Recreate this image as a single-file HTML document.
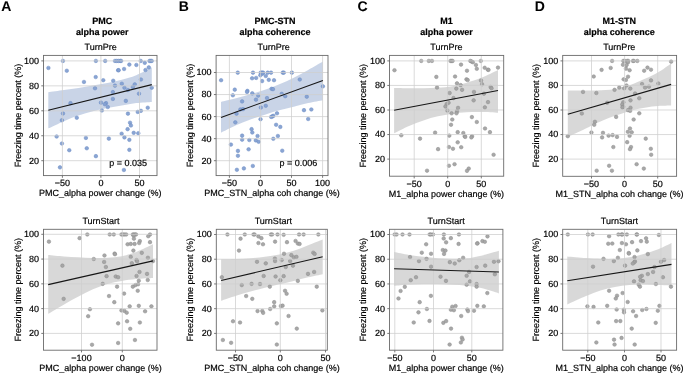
<!DOCTYPE html>
<html><head><meta charset="utf-8"><style>
html,body{margin:0;padding:0;background:#fff;}
svg{display:block;}
text{font-family:"Liberation Sans", sans-serif;fill:#000;text-rendering:geometricPrecision;stroke:#000;stroke-width:0.18px;}
.gr{stroke:#cecece;stroke-width:0.9;stroke-opacity:0.85;}
.tk{stroke:#6a6a6a;stroke-width:0.9;}
.tl{font-size:9px;}
.lb{font-size:9px;}
.tt{font-size:9px;font-weight:bold;}
.lt{font-size:14px;font-weight:bold;fill:#000;stroke-width:0.05px;}
</style></head><body>
<svg style="will-change:transform" width="685" height="374" viewBox="0 0 685 374">
<rect width="685" height="374" fill="#fff"/>
<text x="1.2" y="10.5" class="lt">A</text><text x="178.8" y="10.5" class="lt">B</text><text x="357.4" y="10.5" class="lt">C</text><text x="534.8" y="10.5" class="lt">D</text>
<path d="M48.3,92.27 C50.92,91.91 59.02,90.83 64.05,90.11 C69.08,89.39 73.67,88.71 78.48,87.95 C83.29,87.18 88.1,86.38 92.91,85.54 C97.72,84.7 102.53,83.86 107.33,82.9 C112.14,81.93 116.95,81.05 121.76,79.77 C126.57,78.49 131.19,77.24 136.19,75.2 C141.2,73.16 149.2,68.79 151.8,67.51 L151.8,101.89 C149.2,102.09 141.2,102.49 136.19,103.1 C131.19,103.7 126.57,104.7 121.76,105.5 C116.95,106.3 112.14,106.94 107.33,107.91 C102.53,108.87 97.72,109.99 92.91,111.27 C88.1,112.56 83.29,113.96 78.48,115.6 C73.67,117.24 69.08,119.01 64.05,121.13 C59.02,123.26 50.92,127.14 48.3,128.35 Z" fill="#4c72b0" fill-opacity="0.3"/>
<g fill="#84a0d1" stroke="#6d8dc4" stroke-width="0.5" fill-opacity="0.95"><circle cx="62.95" cy="60.93" r="1.8"/><circle cx="95.88" cy="60.93" r="1.8"/><circle cx="105.17" cy="60.93" r="1.8"/><circle cx="114.98" cy="60.93" r="1.8"/><circle cx="116.73" cy="60.93" r="1.8"/><circle cx="118.48" cy="60.93" r="1.8"/><circle cx="120.23" cy="60.93" r="1.8"/><circle cx="121.11" cy="60.93" r="1.8"/><circle cx="140.73" cy="60.93" r="1.8"/><circle cx="149.49" cy="60.93" r="1.8"/><circle cx="150.72" cy="60.93" r="1.8"/><circle cx="151.77" cy="60.93" r="1.8"/><circle cx="48.41" cy="67.94" r="1.8"/><circle cx="66.8" cy="70.74" r="1.8"/><circle cx="129.34" cy="64.61" r="1.8"/><circle cx="136.35" cy="64.96" r="1.8"/><circle cx="144.76" cy="62.86" r="1.8"/><circle cx="118.13" cy="70.22" r="1.8"/><circle cx="118.66" cy="70.22" r="1.8"/><circle cx="124.09" cy="68.99" r="1.8"/><circle cx="145.46" cy="70.04" r="1.8"/><circle cx="148.79" cy="67.42" r="1.8"/><circle cx="95.71" cy="77.05" r="1.8"/><circle cx="83.97" cy="81.96" r="1.8"/><circle cx="103.24" cy="80.2" r="1.8"/><circle cx="113.23" cy="80.73" r="1.8"/><circle cx="140.91" cy="79.5" r="1.8"/><circle cx="114.98" cy="85.64" r="1.8"/><circle cx="121.81" cy="83.71" r="1.8"/><circle cx="134.77" cy="84.41" r="1.8"/><circle cx="124.44" cy="87.74" r="1.8"/><circle cx="127.94" cy="90.01" r="1.8"/><circle cx="132.85" cy="87.04" r="1.8"/><circle cx="151.77" cy="87.74" r="1.8"/><circle cx="95.01" cy="88.26" r="1.8"/><circle cx="112.88" cy="92.12" r="1.8"/><circle cx="138.98" cy="93.69" r="1.8"/><circle cx="112.88" cy="98.95" r="1.8"/><circle cx="125.84" cy="100.88" r="1.8"/><circle cx="100.96" cy="102.63" r="1.8"/><circle cx="106.04" cy="103.15" r="1.8"/><circle cx="104.82" cy="104.2" r="1.8"/><circle cx="107.8" cy="107.01" r="1.8"/><circle cx="70.48" cy="103.15" r="1.8"/><circle cx="101.84" cy="110.51" r="1.8"/><circle cx="147.74" cy="107.71" r="1.8"/><circle cx="137.75" cy="111.91" r="1.8"/><circle cx="140.91" cy="110.86" r="1.8"/><circle cx="62.95" cy="113.49" r="1.8"/><circle cx="127.94" cy="113.66" r="1.8"/><circle cx="61.9" cy="120.23" r="1.8"/><circle cx="76.79" cy="117.78" r="1.8"/><circle cx="130.04" cy="122.69" r="1.8"/><circle cx="130.92" cy="125.49" r="1.8"/><circle cx="127.59" cy="129.17" r="1.8"/><circle cx="121.64" cy="133.72" r="1.8"/><circle cx="133.72" cy="132.85" r="1.8"/><circle cx="138.28" cy="133.2" r="1.8"/><circle cx="56.64" cy="136.53" r="1.8"/><circle cx="85.9" cy="137.93" r="1.8"/><circle cx="108.85" cy="138.63" r="1.8"/><circle cx="124.44" cy="137.4" r="1.8"/><circle cx="129.34" cy="139.85" r="1.8"/><circle cx="61.9" cy="143.53" r="1.8"/><circle cx="69.26" cy="150.19" r="1.8"/><circle cx="86.77" cy="148.26" r="1.8"/><circle cx="129.34" cy="149.84" r="1.8"/><circle cx="95.88" cy="156.15" r="1.8"/><circle cx="59.97" cy="167.36" r="1.8"/><circle cx="123.91" cy="169.99" r="1.8"/></g>
<line x1="43.5" y1="60.9" x2="157" y2="60.9" class="gr"/>
<line x1="43.5" y1="85.85" x2="157" y2="85.85" class="gr"/>
<line x1="43.5" y1="110.8" x2="157" y2="110.8" class="gr"/>
<line x1="43.5" y1="135.75" x2="157" y2="135.75" class="gr"/>
<line x1="43.5" y1="160.7" x2="157" y2="160.7" class="gr"/>
<line x1="62.4" y1="55.4" x2="62.4" y2="175.6" class="gr"/>
<line x1="100.9" y1="55.4" x2="100.9" y2="175.6" class="gr"/>
<line x1="139.5" y1="55.4" x2="139.5" y2="175.6" class="gr"/>
<line x1="48.3" y1="110.3" x2="151.8" y2="84.6" stroke="#161616" stroke-width="1.1"/>
<rect x="43.5" y="55.4" width="113.5" height="120.2" fill="none" stroke="#6a6a6a" stroke-width="0.9"/>
<line x1="41.3" y1="60.9" x2="43.5" y2="60.9" class="tk"/>
<text x="39" y="63.8" class="tl" text-anchor="end">100</text>
<line x1="41.3" y1="85.85" x2="43.5" y2="85.85" class="tk"/>
<text x="39" y="88.75" class="tl" text-anchor="end">80</text>
<line x1="41.3" y1="110.8" x2="43.5" y2="110.8" class="tk"/>
<text x="39" y="113.7" class="tl" text-anchor="end">60</text>
<line x1="41.3" y1="135.75" x2="43.5" y2="135.75" class="tk"/>
<text x="39" y="138.65" class="tl" text-anchor="end">40</text>
<line x1="41.3" y1="160.7" x2="43.5" y2="160.7" class="tk"/>
<text x="39" y="163.6" class="tl" text-anchor="end">20</text>
<line x1="62.4" y1="175.6" x2="62.4" y2="177.8" class="tk"/>
<text x="62.4" y="186" class="tl" text-anchor="middle">−50</text>
<line x1="100.9" y1="175.6" x2="100.9" y2="177.8" class="tk"/>
<text x="100.9" y="186" class="tl" text-anchor="middle">0</text>
<line x1="139.5" y1="175.6" x2="139.5" y2="177.8" class="tk"/>
<text x="139.5" y="186" class="tl" text-anchor="middle">50</text>
<text x="100.2" y="196.2" class="lb" text-anchor="middle">PMC_alpha power change (%)</text>
<text transform="translate(20.5,115.5) rotate(-90)" class="lb" text-anchor="middle">Freezing time percent (%)</text>
<text x="100.7" y="49.8" class="lb" text-anchor="middle">TurnPre</text>
<text x="102.3" y="24" class="tt" text-anchor="middle">PMC</text>
<text x="102.3" y="34.8" class="tt" text-anchor="middle">alpha power</text>
<text x="109.2" y="166.2" class="lb">p = 0.035</text>
<path d="M221,101.89 C223.51,101.29 231.14,99.57 236.05,98.29 C240.96,97 245.67,95.6 250.48,94.2 C255.29,92.8 260.1,91.51 264.91,89.87 C269.72,88.23 274.53,86.34 279.33,84.34 C284.14,82.33 288.95,80.25 293.76,77.85 C298.57,75.44 303.34,72.64 308.19,69.91 C313.05,67.18 320.45,62.9 322.9,61.49 L322.9,100.21 C320.45,100.69 313.05,102.01 308.19,103.1 C303.34,104.18 298.57,105.5 293.76,106.7 C288.95,107.91 284.14,108.99 279.33,110.31 C274.53,111.63 269.72,113.12 264.91,114.64 C260.1,116.16 255.29,117.69 250.48,119.45 C245.67,121.21 240.96,123.02 236.05,125.22 C231.14,127.42 223.51,131.43 221,132.68 Z" fill="#4c72b0" fill-opacity="0.3"/>
<g fill="#84a0d1" stroke="#6d8dc4" stroke-width="0.5" fill-opacity="0.95"><circle cx="221.11" cy="80.2" r="1.8"/><circle cx="237.75" cy="72.67" r="1.8"/><circle cx="252.99" cy="72.67" r="1.8"/><circle cx="260.7" cy="72.67" r="1.8"/><circle cx="261.93" cy="72.67" r="1.8"/><circle cx="263.15" cy="72.67" r="1.8"/><circle cx="262.45" cy="73.72" r="1.8"/><circle cx="267.71" cy="72.67" r="1.8"/><circle cx="271.04" cy="72.67" r="1.8"/><circle cx="282.77" cy="72.67" r="1.8"/><circle cx="283.82" cy="72.67" r="1.8"/><circle cx="291.88" cy="72.67" r="1.8"/><circle cx="260.35" cy="75.3" r="1.8"/><circle cx="265.78" cy="76" r="1.8"/><circle cx="252.12" cy="78.28" r="1.8"/><circle cx="256.15" cy="77.93" r="1.8"/><circle cx="262.1" cy="81.08" r="1.8"/><circle cx="268.76" cy="79.85" r="1.8"/><circle cx="274.01" cy="80.2" r="1.8"/><circle cx="299.77" cy="79.5" r="1.8"/><circle cx="322.89" cy="86.34" r="1.8"/><circle cx="234.77" cy="89.66" r="1.8"/><circle cx="247.39" cy="90.89" r="1.8"/><circle cx="247.04" cy="91.94" r="1.8"/><circle cx="252.29" cy="93.34" r="1.8"/><circle cx="271.56" cy="88.79" r="1.8"/><circle cx="272.96" cy="89.14" r="1.8"/><circle cx="232.85" cy="95.27" r="1.8"/><circle cx="258.25" cy="95.62" r="1.8"/><circle cx="281.72" cy="93.87" r="1.8"/><circle cx="285.23" cy="96.15" r="1.8"/><circle cx="306.77" cy="96.67" r="1.8"/><circle cx="267.01" cy="98.07" r="1.8"/><circle cx="255.97" cy="99.65" r="1.8"/><circle cx="242.13" cy="101.4" r="1.8"/><circle cx="265.78" cy="105.78" r="1.8"/><circle cx="260.88" cy="107.53" r="1.8"/><circle cx="240.38" cy="109.46" r="1.8"/><circle cx="243.01" cy="109.11" r="1.8"/><circle cx="303.97" cy="110.16" r="1.8"/><circle cx="311.33" cy="109.46" r="1.8"/><circle cx="236.53" cy="113.66" r="1.8"/><circle cx="276.99" cy="113.31" r="1.8"/><circle cx="272.44" cy="116.38" r="1.8"/><circle cx="271.21" cy="116.91" r="1.8"/><circle cx="273.31" cy="115.85" r="1.8"/><circle cx="260.53" cy="119.18" r="1.8"/><circle cx="308.18" cy="119.01" r="1.8"/><circle cx="235.3" cy="122.34" r="1.8"/><circle cx="276.12" cy="124.79" r="1.8"/><circle cx="280.32" cy="126.89" r="1.8"/><circle cx="251.59" cy="129.17" r="1.8"/><circle cx="252.29" cy="132.5" r="1.8"/><circle cx="242.13" cy="135.65" r="1.8"/><circle cx="257.55" cy="136" r="1.8"/><circle cx="277.87" cy="136" r="1.8"/><circle cx="242.13" cy="139.68" r="1.8"/><circle cx="249.31" cy="140.03" r="1.8"/><circle cx="255.8" cy="140.38" r="1.8"/><circle cx="258.6" cy="141.78" r="1.8"/><circle cx="273.31" cy="138.8" r="1.8"/><circle cx="230.92" cy="144.58" r="1.8"/><circle cx="237.93" cy="150.89" r="1.8"/><circle cx="248.61" cy="149.31" r="1.8"/><circle cx="282.25" cy="150.72" r="1.8"/><circle cx="237.93" cy="155.8" r="1.8"/><circle cx="252.82" cy="165.96" r="1.8"/><circle cx="243.88" cy="168.41" r="1.8"/><circle cx="236.88" cy="169.81" r="1.8"/></g>
<line x1="216.1" y1="72.5" x2="328" y2="72.5" class="gr"/>
<line x1="216.1" y1="94.55" x2="328" y2="94.55" class="gr"/>
<line x1="216.1" y1="116.6" x2="328" y2="116.6" class="gr"/>
<line x1="216.1" y1="138.65" x2="328" y2="138.65" class="gr"/>
<line x1="216.1" y1="160.7" x2="328" y2="160.7" class="gr"/>
<line x1="229.4" y1="55.4" x2="229.4" y2="175.6" class="gr"/>
<line x1="260.6" y1="55.4" x2="260.6" y2="175.6" class="gr"/>
<line x1="291.5" y1="55.4" x2="291.5" y2="175.6" class="gr"/>
<line x1="322.6" y1="55.4" x2="322.6" y2="175.6" class="gr"/>
<line x1="221" y1="117.4" x2="322.9" y2="80.6" stroke="#161616" stroke-width="1.1"/>
<rect x="216.1" y="55.4" width="111.9" height="120.2" fill="none" stroke="#6a6a6a" stroke-width="0.9"/>
<line x1="213.9" y1="72.5" x2="216.1" y2="72.5" class="tk"/>
<text x="211.6" y="75.4" class="tl" text-anchor="end">100</text>
<line x1="213.9" y1="94.55" x2="216.1" y2="94.55" class="tk"/>
<text x="211.6" y="97.45" class="tl" text-anchor="end">80</text>
<line x1="213.9" y1="116.6" x2="216.1" y2="116.6" class="tk"/>
<text x="211.6" y="119.5" class="tl" text-anchor="end">60</text>
<line x1="213.9" y1="138.65" x2="216.1" y2="138.65" class="tk"/>
<text x="211.6" y="141.55" class="tl" text-anchor="end">40</text>
<line x1="213.9" y1="160.7" x2="216.1" y2="160.7" class="tk"/>
<text x="211.6" y="163.6" class="tl" text-anchor="end">20</text>
<line x1="229.4" y1="175.6" x2="229.4" y2="177.8" class="tk"/>
<text x="229.4" y="186" class="tl" text-anchor="middle">−50</text>
<line x1="260.6" y1="175.6" x2="260.6" y2="177.8" class="tk"/>
<text x="260.6" y="186" class="tl" text-anchor="middle">0</text>
<line x1="291.5" y1="175.6" x2="291.5" y2="177.8" class="tk"/>
<text x="291.5" y="186" class="tl" text-anchor="middle">50</text>
<line x1="322.6" y1="175.6" x2="322.6" y2="177.8" class="tk"/>
<text x="322.6" y="186" class="tl" text-anchor="middle">100</text>
<text x="272" y="196.2" class="lb" text-anchor="middle">PMC_STN_alpha coh change (%)</text>
<text transform="translate(193.1,115.5) rotate(-90)" class="lb" text-anchor="middle">Freezing time percent (%)</text>
<text x="273.6" y="49.8" class="lb" text-anchor="middle">TurnPre</text>
<text x="275.1" y="24" class="tt" text-anchor="middle">PMC-STN</text>
<text x="275.1" y="34.8" class="tt" text-anchor="middle">alpha coherence</text>
<text x="279.5" y="166.2" class="lb">p = 0.006</text>
<path d="M394.1,87.95 C396.59,87.99 404.15,88.15 409.05,88.19 C413.94,88.23 418.67,88.27 423.48,88.19 C428.29,88.11 433.1,88.03 437.91,87.71 C442.72,87.38 447.53,87.1 452.33,86.26 C457.14,85.42 461.95,84.06 466.76,82.66 C471.57,81.25 475.99,79.97 481.19,77.85 C486.4,75.72 495.2,71.23 498,69.91 L498,112.72 C495.2,112.6 486.4,112.07 481.19,111.99 C475.99,111.91 471.57,111.95 466.76,112.23 C461.95,112.52 457.14,113 452.33,113.68 C447.53,114.36 442.72,115.2 437.91,116.32 C433.1,117.44 428.29,118.81 423.48,120.41 C418.67,122.01 413.94,123.82 409.05,125.94 C404.15,128.07 396.59,131.95 394.1,133.16 Z" fill="#7f7f7f" fill-opacity="0.3"/>
<g fill="#a3a3a3" stroke="#8c8c8c" stroke-width="0.5" fill-opacity="0.95"><circle cx="394.46" cy="70.22" r="1.8"/><circle cx="421.26" cy="60.93" r="1.8"/><circle cx="428.8" cy="60.93" r="1.8"/><circle cx="431.95" cy="60.93" r="1.8"/><circle cx="450.52" cy="60.93" r="1.8"/><circle cx="451.57" cy="60.93" r="1.8"/><circle cx="452.62" cy="60.93" r="1.8"/><circle cx="470.31" cy="60.93" r="1.8"/><circle cx="471.54" cy="61.46" r="1.8"/><circle cx="472.77" cy="62.16" r="1.8"/><circle cx="480.82" cy="60.93" r="1.8"/><circle cx="461.03" cy="64.61" r="1.8"/><circle cx="475.92" cy="64.96" r="1.8"/><circle cx="476.8" cy="68.82" r="1.8"/><circle cx="466.99" cy="70.74" r="1.8"/><circle cx="484.68" cy="67.77" r="1.8"/><circle cx="487.83" cy="69.69" r="1.8"/><circle cx="488.53" cy="69.87" r="1.8"/><circle cx="497.99" cy="67.59" r="1.8"/><circle cx="436.33" cy="76.88" r="1.8"/><circle cx="455.07" cy="76.53" r="1.8"/><circle cx="466.46" cy="79.33" r="1.8"/><circle cx="467.69" cy="80.03" r="1.8"/><circle cx="481" cy="80.55" r="1.8"/><circle cx="482.05" cy="84.23" r="1.8"/><circle cx="457" cy="83.36" r="1.8"/><circle cx="460.68" cy="85.11" r="1.8"/><circle cx="437.03" cy="87.56" r="1.8"/><circle cx="456.3" cy="88.61" r="1.8"/><circle cx="462.08" cy="89.84" r="1.8"/><circle cx="490.64" cy="87.04" r="1.8"/><circle cx="491.51" cy="88.26" r="1.8"/><circle cx="449.64" cy="92.99" r="1.8"/><circle cx="473.99" cy="91.94" r="1.8"/><circle cx="483.98" cy="93.69" r="1.8"/><circle cx="453.5" cy="98.07" r="1.8"/><circle cx="473.64" cy="100.35" r="1.8"/><circle cx="488.01" cy="102.1" r="1.8"/><circle cx="448.59" cy="102.8" r="1.8"/><circle cx="446.66" cy="104.03" r="1.8"/><circle cx="445.44" cy="106.48" r="1.8"/><circle cx="458.05" cy="107.88" r="1.8"/><circle cx="484.85" cy="107.36" r="1.8"/><circle cx="447.36" cy="110.51" r="1.8"/><circle cx="457" cy="111.21" r="1.8"/><circle cx="451.57" cy="113.31" r="1.8"/><circle cx="456.47" cy="113.31" r="1.8"/><circle cx="452.27" cy="119.53" r="1.8"/><circle cx="451.04" cy="124.79" r="1.8"/><circle cx="471.89" cy="117.08" r="1.8"/><circle cx="476.8" cy="121.99" r="1.8"/><circle cx="485.03" cy="128.47" r="1.8"/><circle cx="489.93" cy="132.15" r="1.8"/><circle cx="435.1" cy="132.67" r="1.8"/><circle cx="457.7" cy="132.15" r="1.8"/><circle cx="463.31" cy="133.02" r="1.8"/><circle cx="464.71" cy="136.18" r="1.8"/><circle cx="465.23" cy="136.88" r="1.8"/><circle cx="472.07" cy="136.18" r="1.8"/><circle cx="471.36" cy="137.4" r="1.8"/><circle cx="449.29" cy="135.65" r="1.8"/><circle cx="401.29" cy="135.3" r="1.8"/><circle cx="420.04" cy="138.63" r="1.8"/><circle cx="457.7" cy="142.31" r="1.8"/><circle cx="448.94" cy="147.04" r="1.8"/><circle cx="452.97" cy="148.79" r="1.8"/><circle cx="461.2" cy="147.21" r="1.8"/><circle cx="438.08" cy="149.14" r="1.8"/><circle cx="493.61" cy="154.74" r="1.8"/><circle cx="448.94" cy="165.78" r="1.8"/><circle cx="454.55" cy="164.2" r="1.8"/><circle cx="468.74" cy="168.58" r="1.8"/><circle cx="466.99" cy="170.86" r="1.8"/><circle cx="427.04" cy="170.69" r="1.8"/></g>
<line x1="389.5" y1="60.9" x2="503.7" y2="60.9" class="gr"/>
<line x1="389.5" y1="85.45" x2="503.7" y2="85.45" class="gr"/>
<line x1="389.5" y1="110" x2="503.7" y2="110" class="gr"/>
<line x1="389.5" y1="134.55" x2="503.7" y2="134.55" class="gr"/>
<line x1="389.5" y1="159.1" x2="503.7" y2="159.1" class="gr"/>
<line x1="414.2" y1="55.4" x2="414.2" y2="176.2" class="gr"/>
<line x1="447.7" y1="55.4" x2="447.7" y2="176.2" class="gr"/>
<line x1="481.3" y1="55.4" x2="481.3" y2="176.2" class="gr"/>
<line x1="394.1" y1="110.3" x2="498" y2="90.5" stroke="#161616" stroke-width="1.1"/>
<rect x="389.5" y="55.4" width="114.2" height="120.8" fill="none" stroke="#6a6a6a" stroke-width="0.9"/>
<line x1="387.3" y1="60.9" x2="389.5" y2="60.9" class="tk"/>
<text x="385" y="63.8" class="tl" text-anchor="end">100</text>
<line x1="387.3" y1="85.45" x2="389.5" y2="85.45" class="tk"/>
<text x="385" y="88.35" class="tl" text-anchor="end">80</text>
<line x1="387.3" y1="110" x2="389.5" y2="110" class="tk"/>
<text x="385" y="112.9" class="tl" text-anchor="end">60</text>
<line x1="387.3" y1="134.55" x2="389.5" y2="134.55" class="tk"/>
<text x="385" y="137.45" class="tl" text-anchor="end">40</text>
<line x1="387.3" y1="159.1" x2="389.5" y2="159.1" class="tk"/>
<text x="385" y="162" class="tl" text-anchor="end">20</text>
<line x1="414.2" y1="176.2" x2="414.2" y2="178.4" class="tk"/>
<text x="414.2" y="186.6" class="tl" text-anchor="middle">−50</text>
<line x1="447.7" y1="176.2" x2="447.7" y2="178.4" class="tk"/>
<text x="447.7" y="186.6" class="tl" text-anchor="middle">0</text>
<line x1="481.3" y1="176.2" x2="481.3" y2="178.4" class="tk"/>
<text x="481.3" y="186.6" class="tl" text-anchor="middle">50</text>
<text x="446.4" y="196.8" class="lb" text-anchor="middle">M1_alpha power change (%)</text>
<text transform="translate(365.5,115.8) rotate(-90)" class="lb" text-anchor="middle">Freezing time percent (%)</text>
<text x="446.4" y="49.8" class="lb" text-anchor="middle">TurnPre</text>
<text x="446.4" y="24" class="tt" text-anchor="middle">M1</text>
<text x="446.4" y="34.8" class="tt" text-anchor="middle">alpha power</text>
<path d="M567.8,90.59 C571.64,90.59 583.81,90.71 590.86,90.59 C597.91,90.47 604.48,90.51 610.1,89.87 C615.71,89.23 620.52,87.83 624.53,86.74 C628.53,85.66 630.54,84.78 634.14,83.38 C637.75,81.97 642.16,80.17 646.17,78.33 C650.18,76.48 654.04,74.8 658.19,72.31 C662.35,69.83 668.95,64.9 671.1,63.42 L671.1,105.5 C668.95,105.58 662.35,105.66 658.19,105.98 C654.04,106.3 650.18,106.78 646.17,107.42 C642.16,108.07 638.15,108.83 634.14,109.83 C630.14,110.83 626.13,112.15 622.12,113.44 C618.11,114.72 613.7,116.16 610.1,117.53 C606.49,118.89 603.68,120.21 600.48,121.61 C597.27,123.02 594.06,124.42 590.86,125.94 C587.65,127.46 585.08,128.95 581.24,130.75 C577.4,132.56 570.04,135.76 567.8,136.76 Z" fill="#7f7f7f" fill-opacity="0.3"/>
<g fill="#a3a3a3" stroke="#8c8c8c" stroke-width="0.5" fill-opacity="0.95"><circle cx="612.1" cy="60.93" r="1.8"/><circle cx="623.31" cy="60.93" r="1.8"/><circle cx="624.72" cy="60.93" r="1.8"/><circle cx="627.17" cy="60.93" r="1.8"/><circle cx="628.22" cy="60.93" r="1.8"/><circle cx="627.87" cy="62.51" r="1.8"/><circle cx="632.95" cy="60.93" r="1.8"/><circle cx="633.82" cy="60.93" r="1.8"/><circle cx="637.33" cy="60.93" r="1.8"/><circle cx="671.14" cy="61.64" r="1.8"/><circle cx="622.96" cy="64.79" r="1.8"/><circle cx="626.47" cy="65.14" r="1.8"/><circle cx="601.59" cy="69.87" r="1.8"/><circle cx="610.7" cy="67.94" r="1.8"/><circle cx="625.94" cy="68.64" r="1.8"/><circle cx="629.62" cy="70.22" r="1.8"/><circle cx="644.16" cy="70.74" r="1.8"/><circle cx="647.49" cy="67.59" r="1.8"/><circle cx="650.99" cy="69.69" r="1.8"/><circle cx="593.71" cy="76.53" r="1.8"/><circle cx="628.04" cy="76.7" r="1.8"/><circle cx="623.66" cy="79.33" r="1.8"/><circle cx="625.94" cy="80.03" r="1.8"/><circle cx="650.99" cy="80.38" r="1.8"/><circle cx="642.06" cy="84.06" r="1.8"/><circle cx="658.35" cy="83.53" r="1.8"/><circle cx="626.47" cy="85.46" r="1.8"/><circle cx="624.19" cy="88.26" r="1.8"/><circle cx="630.32" cy="88.61" r="1.8"/><circle cx="619.28" cy="87.56" r="1.8"/><circle cx="614.55" cy="89.84" r="1.8"/><circle cx="645.04" cy="87.56" r="1.8"/><circle cx="648.89" cy="86.69" r="1.8"/><circle cx="583.02" cy="91.94" r="1.8"/><circle cx="596.34" cy="92.99" r="1.8"/><circle cx="635.05" cy="93.52" r="1.8"/><circle cx="639.26" cy="98.25" r="1.8"/><circle cx="630.5" cy="100.35" r="1.8"/><circle cx="607.2" cy="102.8" r="1.8"/><circle cx="623.31" cy="102.28" r="1.8"/><circle cx="622.26" cy="104.55" r="1.8"/><circle cx="623.14" cy="106.83" r="1.8"/><circle cx="622.44" cy="107.36" r="1.8"/><circle cx="630.5" cy="107.71" r="1.8"/><circle cx="628.04" cy="110.16" r="1.8"/><circle cx="630.15" cy="110.86" r="1.8"/><circle cx="581.8" cy="113.49" r="1.8"/><circle cx="639.26" cy="113.31" r="1.8"/><circle cx="616.13" cy="116.91" r="1.8"/><circle cx="633.65" cy="119.53" r="1.8"/><circle cx="594.93" cy="121.81" r="1.8"/><circle cx="594.23" cy="124.79" r="1.8"/><circle cx="629.97" cy="128.47" r="1.8"/><circle cx="627.87" cy="131.8" r="1.8"/><circle cx="631.72" cy="132.32" r="1.8"/><circle cx="629.62" cy="135.82" r="1.8"/><circle cx="591.43" cy="132.5" r="1.8"/><circle cx="602.99" cy="132.85" r="1.8"/><circle cx="602.12" cy="137.4" r="1.8"/><circle cx="608.6" cy="135.65" r="1.8"/><circle cx="612.63" cy="135.12" r="1.8"/><circle cx="617.01" cy="136.88" r="1.8"/><circle cx="567.78" cy="136.18" r="1.8"/><circle cx="645.74" cy="138.63" r="1.8"/><circle cx="627.17" cy="142.13" r="1.8"/><circle cx="613.33" cy="147.04" r="1.8"/><circle cx="631.02" cy="147.04" r="1.8"/><circle cx="629.97" cy="149.14" r="1.8"/><circle cx="650.82" cy="148.79" r="1.8"/><circle cx="651.17" cy="154.74" r="1.8"/><circle cx="636.63" cy="164.2" r="1.8"/><circle cx="609.12" cy="165.78" r="1.8"/><circle cx="611.93" cy="170.69" r="1.8"/><circle cx="596.69" cy="170.69" r="1.8"/><circle cx="643.81" cy="168.58" r="1.8"/></g>
<line x1="562.7" y1="60.9" x2="676.6" y2="60.9" class="gr"/>
<line x1="562.7" y1="85.45" x2="676.6" y2="85.45" class="gr"/>
<line x1="562.7" y1="110" x2="676.6" y2="110" class="gr"/>
<line x1="562.7" y1="134.55" x2="676.6" y2="134.55" class="gr"/>
<line x1="562.7" y1="159.1" x2="676.6" y2="159.1" class="gr"/>
<line x1="591.5" y1="55.4" x2="591.5" y2="176.3" class="gr"/>
<line x1="624.6" y1="55.4" x2="624.6" y2="176.3" class="gr"/>
<line x1="657.7" y1="55.4" x2="657.7" y2="176.3" class="gr"/>
<line x1="567.8" y1="114.2" x2="671.1" y2="84.4" stroke="#161616" stroke-width="1.1"/>
<rect x="562.7" y="55.4" width="113.9" height="120.9" fill="none" stroke="#6a6a6a" stroke-width="0.9"/>
<line x1="560.5" y1="60.9" x2="562.7" y2="60.9" class="tk"/>
<text x="558.2" y="63.8" class="tl" text-anchor="end">100</text>
<line x1="560.5" y1="85.45" x2="562.7" y2="85.45" class="tk"/>
<text x="558.2" y="88.35" class="tl" text-anchor="end">80</text>
<line x1="560.5" y1="110" x2="562.7" y2="110" class="tk"/>
<text x="558.2" y="112.9" class="tl" text-anchor="end">60</text>
<line x1="560.5" y1="134.55" x2="562.7" y2="134.55" class="tk"/>
<text x="558.2" y="137.45" class="tl" text-anchor="end">40</text>
<line x1="560.5" y1="159.1" x2="562.7" y2="159.1" class="tk"/>
<text x="558.2" y="162" class="tl" text-anchor="end">20</text>
<line x1="591.5" y1="176.3" x2="591.5" y2="178.5" class="tk"/>
<text x="591.5" y="186.7" class="tl" text-anchor="middle">−50</text>
<line x1="624.6" y1="176.3" x2="624.6" y2="178.5" class="tk"/>
<text x="624.6" y="186.7" class="tl" text-anchor="middle">0</text>
<line x1="657.7" y1="176.3" x2="657.7" y2="178.5" class="tk"/>
<text x="657.7" y="186.7" class="tl" text-anchor="middle">50</text>
<text x="619.5" y="196.9" class="lb" text-anchor="middle">M1_STN_alpha coh change (%)</text>
<text transform="translate(538.7,115.85) rotate(-90)" class="lb" text-anchor="middle">Freezing time percent (%)</text>
<text x="619.3" y="49.8" class="lb" text-anchor="middle">TurnPre</text>
<text x="619.2" y="24" class="tt" text-anchor="middle">M1-STN</text>
<text x="619.2" y="34.8" class="tt" text-anchor="middle">alpha coherence</text>
<path d="M48.2,254.93 C50.84,255.17 59,255.98 64.05,256.38 C69.09,256.78 73.67,257.06 78.48,257.34 C83.29,257.62 88.1,257.98 92.91,258.06 C97.72,258.14 102.53,258.14 107.33,257.82 C112.14,257.5 116.95,257.1 121.76,256.14 C126.57,255.17 130.99,254.01 136.19,252.05 C141.4,250.08 150.2,245.64 153,244.35 L153,278.02 C150.2,278.18 141.4,278.5 136.19,278.98 C130.99,279.46 126.57,280.06 121.76,280.91 C116.95,281.75 112.14,282.63 107.33,284.03 C102.53,285.43 97.72,287.24 92.91,289.32 C88.1,291.41 83.29,294.01 78.48,296.54 C73.67,299.06 69.09,301.59 64.05,304.47 C59,307.36 50.84,312.29 48.2,313.85 Z" fill="#7f7f7f" fill-opacity="0.3"/>
<g fill="#a3a3a3" stroke="#8c8c8c" stroke-width="0.5" fill-opacity="0.95"><circle cx="48.93" cy="241.64" r="1.8"/><circle cx="79.59" cy="238.14" r="1.8"/><circle cx="87.3" cy="234.46" r="1.8"/><circle cx="109.72" cy="234.46" r="1.8"/><circle cx="113.75" cy="234.46" r="1.8"/><circle cx="121.46" cy="234.46" r="1.8"/><circle cx="122.86" cy="234.46" r="1.8"/><circle cx="124.44" cy="234.46" r="1.8"/><circle cx="126.19" cy="234.46" r="1.8"/><circle cx="132.85" cy="234.46" r="1.8"/><circle cx="133.9" cy="234.46" r="1.8"/><circle cx="135.12" cy="234.46" r="1.8"/><circle cx="136" cy="234.46" r="1.8"/><circle cx="133.55" cy="235.51" r="1.8"/><circle cx="150.01" cy="234.46" r="1.8"/><circle cx="148.26" cy="236.21" r="1.8"/><circle cx="133.9" cy="238.66" r="1.8"/><circle cx="139.85" cy="241.12" r="1.8"/><circle cx="139.15" cy="243.04" r="1.8"/><circle cx="127.59" cy="244.27" r="1.8"/><circle cx="130.74" cy="243.92" r="1.8"/><circle cx="134.6" cy="243.92" r="1.8"/><circle cx="150.01" cy="242.17" r="1.8"/><circle cx="62.42" cy="265.64" r="1.8"/><circle cx="93.78" cy="258.99" r="1.8"/><circle cx="104.47" cy="255.48" r="1.8"/><circle cx="114.63" cy="253.55" r="1.8"/><circle cx="114.98" cy="254.26" r="1.8"/><circle cx="133.37" cy="250.58" r="1.8"/><circle cx="141.78" cy="252.85" r="1.8"/><circle cx="130.74" cy="256.88" r="1.8"/><circle cx="147.91" cy="257.76" r="1.8"/><circle cx="136.53" cy="260.04" r="1.8"/><circle cx="137.05" cy="261.26" r="1.8"/><circle cx="152.99" cy="261.09" r="1.8"/><circle cx="104.12" cy="261.96" r="1.8"/><circle cx="131.8" cy="263.19" r="1.8"/><circle cx="105.87" cy="267.04" r="1.8"/><circle cx="139.5" cy="271.95" r="1.8"/><circle cx="147.04" cy="273.88" r="1.8"/><circle cx="106.57" cy="276.15" r="1.8"/><circle cx="115.68" cy="276.5" r="1.8"/><circle cx="118.13" cy="277.2" r="1.8"/><circle cx="136.53" cy="275.98" r="1.8"/><circle cx="138.8" cy="280.71" r="1.8"/><circle cx="147.74" cy="280.01" r="1.8"/><circle cx="102.72" cy="283.86" r="1.8"/><circle cx="117.08" cy="286.66" r="1.8"/><circle cx="132.85" cy="286.66" r="1.8"/><circle cx="135.47" cy="285.09" r="1.8"/><circle cx="138.1" cy="284.21" r="1.8"/><circle cx="137.75" cy="290.78" r="1.8"/><circle cx="124.09" cy="293.58" r="1.8"/><circle cx="109.02" cy="296.04" r="1.8"/><circle cx="114.28" cy="302.17" r="1.8"/><circle cx="63.65" cy="298.84" r="1.8"/><circle cx="129.69" cy="306.37" r="1.8"/><circle cx="138.8" cy="305.85" r="1.8"/><circle cx="151.42" cy="306.37" r="1.8"/><circle cx="145.11" cy="311.28" r="1.8"/><circle cx="89.93" cy="309.18" r="1.8"/><circle cx="121.46" cy="310.4" r="1.8"/><circle cx="124.44" cy="310.93" r="1.8"/><circle cx="126.72" cy="312.68" r="1.8"/><circle cx="88.18" cy="316.18" r="1.8"/><circle cx="118.13" cy="323.36" r="1.8"/><circle cx="127.07" cy="321.26" r="1.8"/><circle cx="139.85" cy="322.49" r="1.8"/><circle cx="130.22" cy="328.8" r="1.8"/><circle cx="92.03" cy="344.74" r="1.8"/><circle cx="118.13" cy="342.99" r="1.8"/><circle cx="134.95" cy="340.01" r="1.8"/></g>
<line x1="43.5" y1="234.3" x2="157" y2="234.3" class="gr"/>
<line x1="43.5" y1="259.07" x2="157" y2="259.07" class="gr"/>
<line x1="43.5" y1="283.85" x2="157" y2="283.85" class="gr"/>
<line x1="43.5" y1="308.62" x2="157" y2="308.62" class="gr"/>
<line x1="43.5" y1="333.4" x2="157" y2="333.4" class="gr"/>
<line x1="81.5" y1="229.3" x2="81.5" y2="350.2" class="gr"/>
<line x1="122.3" y1="229.3" x2="122.3" y2="350.2" class="gr"/>
<line x1="48.2" y1="284.6" x2="153" y2="260.9" stroke="#161616" stroke-width="1.1"/>
<rect x="43.5" y="229.3" width="113.5" height="120.9" fill="none" stroke="#6a6a6a" stroke-width="0.9"/>
<line x1="41.3" y1="234.3" x2="43.5" y2="234.3" class="tk"/>
<text x="39" y="237.2" class="tl" text-anchor="end">100</text>
<line x1="41.3" y1="259.07" x2="43.5" y2="259.07" class="tk"/>
<text x="39" y="261.97" class="tl" text-anchor="end">80</text>
<line x1="41.3" y1="283.85" x2="43.5" y2="283.85" class="tk"/>
<text x="39" y="286.75" class="tl" text-anchor="end">60</text>
<line x1="41.3" y1="308.62" x2="43.5" y2="308.62" class="tk"/>
<text x="39" y="311.52" class="tl" text-anchor="end">40</text>
<line x1="41.3" y1="333.4" x2="43.5" y2="333.4" class="tk"/>
<text x="39" y="336.3" class="tl" text-anchor="end">20</text>
<line x1="81.5" y1="350.2" x2="81.5" y2="352.4" class="tk"/>
<text x="81.5" y="360.6" class="tl" text-anchor="middle">−100</text>
<line x1="122.3" y1="350.2" x2="122.3" y2="352.4" class="tk"/>
<text x="122.3" y="360.6" class="tl" text-anchor="middle">0</text>
<text x="100.6" y="370.8" class="lb" text-anchor="middle">PMC_alpha power change (%)</text>
<text transform="translate(20.5,289.75) rotate(-90)" class="lb" text-anchor="middle">Freezing time percent (%)</text>
<text x="101" y="223.7" class="lb" text-anchor="middle">TurnStart</text>
<path d="M221.1,259.26 C223.59,259.22 231.15,259.18 236.05,259.02 C240.94,258.86 245.67,258.66 250.48,258.3 C255.29,257.94 260.1,257.5 264.91,256.86 C269.72,256.22 274.53,255.45 279.33,254.45 C284.14,253.45 288.95,252.37 293.76,250.85 C298.57,249.32 303.37,247.2 308.19,245.31 C313.02,243.43 320.28,240.51 322.7,239.54 L322.7,274.17 C320.28,274.69 313.02,276.18 308.19,277.3 C303.37,278.42 298.57,279.74 293.76,280.91 C288.95,282.07 284.14,283.15 279.33,284.27 C274.53,285.39 269.72,286.44 264.91,287.64 C260.1,288.84 255.29,290.12 250.48,291.49 C245.67,292.85 240.94,294.25 236.05,295.82 C231.15,297.38 223.59,300.02 221.1,300.87 Z" fill="#7f7f7f" fill-opacity="0.3"/>
<g fill="#a3a3a3" stroke="#8c8c8c" stroke-width="0.5" fill-opacity="0.95"><circle cx="227.42" cy="234.46" r="1.8"/><circle cx="244.76" cy="234.46" r="1.8"/><circle cx="253.52" cy="234.46" r="1.8"/><circle cx="254.57" cy="234.46" r="1.8"/><circle cx="270.86" cy="234.46" r="1.8"/><circle cx="272.09" cy="234.46" r="1.8"/><circle cx="277.52" cy="234.46" r="1.8"/><circle cx="283.65" cy="234.81" r="1.8"/><circle cx="299.07" cy="234.46" r="1.8"/><circle cx="303.62" cy="234.46" r="1.8"/><circle cx="318.34" cy="234.46" r="1.8"/><circle cx="240.55" cy="238.66" r="1.8"/><circle cx="258.42" cy="236.39" r="1.8"/><circle cx="261.4" cy="238.14" r="1.8"/><circle cx="258.42" cy="243.04" r="1.8"/><circle cx="262.98" cy="244.27" r="1.8"/><circle cx="275.07" cy="241.64" r="1.8"/><circle cx="286.98" cy="242.17" r="1.8"/><circle cx="295.56" cy="240.94" r="1.8"/><circle cx="297.84" cy="243.57" r="1.8"/><circle cx="299.59" cy="243.92" r="1.8"/><circle cx="238.98" cy="250.58" r="1.8"/><circle cx="284" cy="253.73" r="1.8"/><circle cx="291.36" cy="255.13" r="1.8"/><circle cx="293.81" cy="257.41" r="1.8"/><circle cx="296.44" cy="256.88" r="1.8"/><circle cx="313.26" cy="252.68" r="1.8"/><circle cx="314.66" cy="253.91" r="1.8"/><circle cx="274.89" cy="258.64" r="1.8"/><circle cx="275.07" cy="261.09" r="1.8"/><circle cx="281.72" cy="260.04" r="1.8"/><circle cx="290.13" cy="261.09" r="1.8"/><circle cx="257.02" cy="261.79" r="1.8"/><circle cx="265.78" cy="263.36" r="1.8"/><circle cx="285.75" cy="267.04" r="1.8"/><circle cx="292.93" cy="265.64" r="1.8"/><circle cx="221.81" cy="277.2" r="1.8"/><circle cx="263.68" cy="275.98" r="1.8"/><circle cx="275.59" cy="276.5" r="1.8"/><circle cx="283.65" cy="276.15" r="1.8"/><circle cx="308" cy="273.88" r="1.8"/><circle cx="314.13" cy="271.95" r="1.8"/><circle cx="280.32" cy="280.18" r="1.8"/><circle cx="297.84" cy="280.88" r="1.8"/><circle cx="241.78" cy="285.09" r="1.8"/><circle cx="251.59" cy="283.86" r="1.8"/><circle cx="260" cy="284.04" r="1.8"/><circle cx="269.81" cy="286.66" r="1.8"/><circle cx="316.76" cy="286.66" r="1.8"/><circle cx="285.05" cy="290.78" r="1.8"/><circle cx="286.63" cy="293.76" r="1.8"/><circle cx="246.16" cy="296.04" r="1.8"/><circle cx="252.29" cy="298.84" r="1.8"/><circle cx="274.19" cy="302.17" r="1.8"/><circle cx="274.19" cy="306.37" r="1.8"/><circle cx="280.85" cy="306.02" r="1.8"/><circle cx="282.6" cy="305.67" r="1.8"/><circle cx="270.16" cy="309" r="1.8"/><circle cx="257.55" cy="311.1" r="1.8"/><circle cx="262.28" cy="310.93" r="1.8"/><circle cx="263.15" cy="312.85" r="1.8"/><circle cx="322.36" cy="310.4" r="1.8"/><circle cx="288.55" cy="316.01" r="1.8"/><circle cx="233.02" cy="321.26" r="1.8"/><circle cx="240.03" cy="322.49" r="1.8"/><circle cx="276.82" cy="323.36" r="1.8"/><circle cx="296.79" cy="328.62" r="1.8"/><circle cx="222.86" cy="340.01" r="1.8"/><circle cx="231.09" cy="342.81" r="1.8"/><circle cx="276.82" cy="344.56" r="1.8"/></g>
<line x1="216.3" y1="234.5" x2="327.3" y2="234.5" class="gr"/>
<line x1="216.3" y1="259.23" x2="327.3" y2="259.23" class="gr"/>
<line x1="216.3" y1="283.95" x2="327.3" y2="283.95" class="gr"/>
<line x1="216.3" y1="308.67" x2="327.3" y2="308.67" class="gr"/>
<line x1="216.3" y1="333.4" x2="327.3" y2="333.4" class="gr"/>
<line x1="235.5" y1="229.3" x2="235.5" y2="350.2" class="gr"/>
<line x1="280.3" y1="229.3" x2="280.3" y2="350.2" class="gr"/>
<line x1="325.5" y1="229.3" x2="325.5" y2="350.2" class="gr"/>
<line x1="221.1" y1="280.5" x2="322.7" y2="256.7" stroke="#161616" stroke-width="1.1"/>
<rect x="216.3" y="229.3" width="111" height="120.9" fill="none" stroke="#6a6a6a" stroke-width="0.9"/>
<line x1="214.1" y1="234.5" x2="216.3" y2="234.5" class="tk"/>
<text x="211.8" y="237.4" class="tl" text-anchor="end">100</text>
<line x1="214.1" y1="259.23" x2="216.3" y2="259.23" class="tk"/>
<text x="211.8" y="262.12" class="tl" text-anchor="end">80</text>
<line x1="214.1" y1="283.95" x2="216.3" y2="283.95" class="tk"/>
<text x="211.8" y="286.85" class="tl" text-anchor="end">60</text>
<line x1="214.1" y1="308.67" x2="216.3" y2="308.67" class="tk"/>
<text x="211.8" y="311.57" class="tl" text-anchor="end">40</text>
<line x1="214.1" y1="333.4" x2="216.3" y2="333.4" class="tk"/>
<text x="211.8" y="336.3" class="tl" text-anchor="end">20</text>
<line x1="235.5" y1="350.2" x2="235.5" y2="352.4" class="tk"/>
<text x="235.5" y="360.6" class="tl" text-anchor="middle">−50</text>
<line x1="280.3" y1="350.2" x2="280.3" y2="352.4" class="tk"/>
<text x="280.3" y="360.6" class="tl" text-anchor="middle">0</text>
<line x1="325.5" y1="350.2" x2="325.5" y2="352.4" class="tk"/>
<text x="325.5" y="360.6" class="tl" text-anchor="middle">50</text>
<text x="272" y="370.8" class="lb" text-anchor="middle">PMC_STN_alpha coh change (%)</text>
<text transform="translate(193.3,289.75) rotate(-90)" class="lb" text-anchor="middle">Freezing time percent (%)</text>
<text x="273.3" y="223.7" class="lb" text-anchor="middle">TurnStart</text>
<path d="M394.1,252.05 C396.59,252.53 404.15,254.13 409.05,254.93 C413.94,255.74 418.67,256.3 423.48,256.86 C428.29,257.42 433.1,257.98 437.91,258.3 C442.72,258.62 447.53,258.78 452.33,258.78 C457.14,258.78 461.95,258.82 466.76,258.3 C471.57,257.78 475.84,256.9 481.19,255.66 C486.55,254.41 495.95,251.65 498.9,250.85 L498.9,293.41 C495.95,292.53 486.55,289.4 481.19,288.12 C475.84,286.84 471.57,286.28 466.76,285.72 C461.95,285.15 457.14,284.99 452.33,284.75 C447.53,284.51 442.72,284.35 437.91,284.27 C433.1,284.19 428.29,284.19 423.48,284.27 C418.67,284.35 413.94,284.51 409.05,284.75 C404.15,284.99 396.59,285.56 394.1,285.72 Z" fill="#7f7f7f" fill-opacity="0.3"/>
<g fill="#a3a3a3" stroke="#8c8c8c" stroke-width="0.5" fill-opacity="0.95"><circle cx="394.64" cy="234.46" r="1.8"/><circle cx="396.56" cy="234.46" r="1.8"/><circle cx="402.52" cy="234.46" r="1.8"/><circle cx="409.53" cy="234.46" r="1.8"/><circle cx="429.67" cy="234.46" r="1.8"/><circle cx="430.9" cy="234.46" r="1.8"/><circle cx="433" cy="234.46" r="1.8"/><circle cx="443.86" cy="234.46" r="1.8"/><circle cx="458.93" cy="234.46" r="1.8"/><circle cx="443.69" cy="238.49" r="1.8"/><circle cx="450.87" cy="238.14" r="1.8"/><circle cx="446.14" cy="242.34" r="1.8"/><circle cx="458.58" cy="243.92" r="1.8"/><circle cx="426.17" cy="244.27" r="1.8"/><circle cx="477.5" cy="243.22" r="1.8"/><circle cx="477.15" cy="243.57" r="1.8"/><circle cx="482.4" cy="241.12" r="1.8"/><circle cx="484.85" cy="241.82" r="1.8"/><circle cx="487.48" cy="236.39" r="1.8"/><circle cx="442.81" cy="250.05" r="1.8"/><circle cx="445.44" cy="250.58" r="1.8"/><circle cx="444.04" cy="253.91" r="1.8"/><circle cx="431.07" cy="253.73" r="1.8"/><circle cx="421.79" cy="252.68" r="1.8"/><circle cx="410.05" cy="257.06" r="1.8"/><circle cx="426.52" cy="258.81" r="1.8"/><circle cx="418.99" cy="261.09" r="1.8"/><circle cx="463.13" cy="257.76" r="1.8"/><circle cx="459.28" cy="260.21" r="1.8"/><circle cx="449.82" cy="262.14" r="1.8"/><circle cx="454.72" cy="263.54" r="1.8"/><circle cx="493.96" cy="261.79" r="1.8"/><circle cx="498.52" cy="261.26" r="1.8"/><circle cx="431.07" cy="266.69" r="1.8"/><circle cx="476.62" cy="267.04" r="1.8"/><circle cx="485.2" cy="265.64" r="1.8"/><circle cx="469.09" cy="271.95" r="1.8"/><circle cx="494.84" cy="274.23" r="1.8"/><circle cx="466.64" cy="275.8" r="1.8"/><circle cx="440.53" cy="276.68" r="1.8"/><circle cx="416.01" cy="277.2" r="1.8"/><circle cx="410.75" cy="280.18" r="1.8"/><circle cx="445.96" cy="280.88" r="1.8"/><circle cx="469.96" cy="281.41" r="1.8"/><circle cx="466.64" cy="284.74" r="1.8"/><circle cx="476.62" cy="284.04" r="1.8"/><circle cx="476.62" cy="286.66" r="1.8"/><circle cx="404.8" cy="286.84" r="1.8"/><circle cx="400.59" cy="290.96" r="1.8"/><circle cx="398.49" cy="298.49" r="1.8"/><circle cx="430.9" cy="295.86" r="1.8"/><circle cx="419.69" cy="302.17" r="1.8"/><circle cx="426.87" cy="309" r="1.8"/><circle cx="418.46" cy="312.33" r="1.8"/><circle cx="413.73" cy="322.49" r="1.8"/><circle cx="429.5" cy="320.91" r="1.8"/><circle cx="443.34" cy="322.84" r="1.8"/><circle cx="446.14" cy="321.09" r="1.8"/><circle cx="451.04" cy="328.62" r="1.8"/><circle cx="452.27" cy="306.72" r="1.8"/><circle cx="455.6" cy="306.02" r="1.8"/><circle cx="450.87" cy="309.7" r="1.8"/><circle cx="453.85" cy="310.23" r="1.8"/><circle cx="461.2" cy="316.01" r="1.8"/><circle cx="467.34" cy="309.53" r="1.8"/><circle cx="468.04" cy="311.1" r="1.8"/><circle cx="473.99" cy="310.75" r="1.8"/><circle cx="477.32" cy="305.85" r="1.8"/><circle cx="483.8" cy="306.37" r="1.8"/><circle cx="487.31" cy="293.06" r="1.8"/><circle cx="461.91" cy="337.73" r="1.8"/><circle cx="462.61" cy="339.48" r="1.8"/><circle cx="460.85" cy="342.46" r="1.8"/><circle cx="449.64" cy="344.56" r="1.8"/></g>
<line x1="389.5" y1="234.5" x2="502.9" y2="234.5" class="gr"/>
<line x1="389.5" y1="259.23" x2="502.9" y2="259.23" class="gr"/>
<line x1="389.5" y1="283.95" x2="502.9" y2="283.95" class="gr"/>
<line x1="389.5" y1="308.67" x2="502.9" y2="308.67" class="gr"/>
<line x1="389.5" y1="333.4" x2="502.9" y2="333.4" class="gr"/>
<line x1="394.8" y1="229.3" x2="394.8" y2="350.2" class="gr"/>
<line x1="433.5" y1="229.3" x2="433.5" y2="350.2" class="gr"/>
<line x1="471.8" y1="229.3" x2="471.8" y2="350.2" class="gr"/>
<line x1="394.1" y1="268.8" x2="498.9" y2="272" stroke="#161616" stroke-width="1.1"/>
<rect x="389.5" y="229.3" width="113.4" height="120.9" fill="none" stroke="#6a6a6a" stroke-width="0.9"/>
<line x1="387.3" y1="234.5" x2="389.5" y2="234.5" class="tk"/>
<text x="385" y="237.4" class="tl" text-anchor="end">100</text>
<line x1="387.3" y1="259.23" x2="389.5" y2="259.23" class="tk"/>
<text x="385" y="262.12" class="tl" text-anchor="end">80</text>
<line x1="387.3" y1="283.95" x2="389.5" y2="283.95" class="tk"/>
<text x="385" y="286.85" class="tl" text-anchor="end">60</text>
<line x1="387.3" y1="308.67" x2="389.5" y2="308.67" class="tk"/>
<text x="385" y="311.57" class="tl" text-anchor="end">40</text>
<line x1="387.3" y1="333.4" x2="389.5" y2="333.4" class="tk"/>
<text x="385" y="336.3" class="tl" text-anchor="end">20</text>
<line x1="394.8" y1="350.2" x2="394.8" y2="352.4" class="tk"/>
<text x="394.8" y="360.6" class="tl" text-anchor="middle">−50</text>
<line x1="433.5" y1="350.2" x2="433.5" y2="352.4" class="tk"/>
<text x="433.5" y="360.6" class="tl" text-anchor="middle">0</text>
<line x1="471.8" y1="350.2" x2="471.8" y2="352.4" class="tk"/>
<text x="471.8" y="360.6" class="tl" text-anchor="middle">50</text>
<text x="446.3" y="370.8" class="lb" text-anchor="middle">M1_alpha power change (%)</text>
<text transform="translate(365.5,289.75) rotate(-90)" class="lb" text-anchor="middle">Freezing time percent (%)</text>
<text x="446.2" y="223.7" class="lb" text-anchor="middle">TurnStart</text>
<path d="M567.3,256.38 C570.42,256.66 580.52,257.66 586.05,258.06 C591.58,258.46 595.67,258.66 600.48,258.78 C605.29,258.9 610.1,259.02 614.91,258.78 C619.72,258.54 624.53,258.14 629.33,257.34 C634.14,256.54 638.95,255.33 643.76,253.97 C648.57,252.61 653.57,251.01 658.19,249.16 C662.82,247.32 669.28,243.95 671.5,242.91 L671.5,285.72 C669.28,285.6 662.82,285.19 658.19,284.99 C653.57,284.79 648.57,284.51 643.76,284.51 C638.95,284.51 634.14,284.59 629.33,284.99 C624.53,285.39 619.72,286 614.91,286.92 C610.1,287.84 605.29,289 600.48,290.53 C595.67,292.05 591.58,293.73 586.05,296.06 C580.52,298.38 570.42,303.07 567.3,304.47 Z" fill="#7f7f7f" fill-opacity="0.3"/>
<g fill="#a3a3a3" stroke="#8c8c8c" stroke-width="0.5" fill-opacity="0.95"><circle cx="567.78" cy="234.46" r="1.8"/><circle cx="587.93" cy="234.46" r="1.8"/><circle cx="592.66" cy="234.46" r="1.8"/><circle cx="609.12" cy="236.21" r="1.8"/><circle cx="618.41" cy="234.46" r="1.8"/><circle cx="621.56" cy="234.46" r="1.8"/><circle cx="622.44" cy="234.46" r="1.8"/><circle cx="626.82" cy="234.46" r="1.8"/><circle cx="636.63" cy="234.46" r="1.8"/><circle cx="636.98" cy="234.46" r="1.8"/><circle cx="658.88" cy="234.99" r="1.8"/><circle cx="646.09" cy="238.31" r="1.8"/><circle cx="646.79" cy="241.64" r="1.8"/><circle cx="641.01" cy="241.12" r="1.8"/><circle cx="608.25" cy="243.74" r="1.8"/><circle cx="612.28" cy="243.57" r="1.8"/><circle cx="621.91" cy="243.04" r="1.8"/><circle cx="625.94" cy="244.27" r="1.8"/><circle cx="632.07" cy="242.17" r="1.8"/><circle cx="619.81" cy="250.05" r="1.8"/><circle cx="628.74" cy="253.03" r="1.8"/><circle cx="628.92" cy="253.55" r="1.8"/><circle cx="637.33" cy="250.4" r="1.8"/><circle cx="647.84" cy="254.08" r="1.8"/><circle cx="634.53" cy="257.06" r="1.8"/><circle cx="617.88" cy="257.76" r="1.8"/><circle cx="603.52" cy="258.81" r="1.8"/><circle cx="613.85" cy="261.09" r="1.8"/><circle cx="634.88" cy="261.26" r="1.8"/><circle cx="634.35" cy="262.31" r="1.8"/><circle cx="632.77" cy="263.54" r="1.8"/><circle cx="660.98" cy="261.79" r="1.8"/><circle cx="664.13" cy="260.04" r="1.8"/><circle cx="593.01" cy="266.69" r="1.8"/><circle cx="625.07" cy="265.64" r="1.8"/><circle cx="654.5" cy="267.04" r="1.8"/><circle cx="653.09" cy="271.95" r="1.8"/><circle cx="647.84" cy="274.05" r="1.8"/><circle cx="641.88" cy="275.8" r="1.8"/><circle cx="640.13" cy="276.85" r="1.8"/><circle cx="662.91" cy="277.2" r="1.8"/><circle cx="640.66" cy="280.18" r="1.8"/><circle cx="642.93" cy="281.06" r="1.8"/><circle cx="634" cy="281.41" r="1.8"/><circle cx="655.9" cy="284.04" r="1.8"/><circle cx="638.73" cy="284.74" r="1.8"/><circle cx="639.96" cy="286.66" r="1.8"/><circle cx="670.96" cy="286.66" r="1.8"/><circle cx="609.12" cy="290.78" r="1.8"/><circle cx="622.61" cy="293.06" r="1.8"/><circle cx="617.01" cy="295.69" r="1.8"/><circle cx="615.78" cy="298.49" r="1.8"/><circle cx="627.69" cy="301.99" r="1.8"/><circle cx="587.4" cy="306.37" r="1.8"/><circle cx="593.53" cy="306.9" r="1.8"/><circle cx="607.2" cy="305.85" r="1.8"/><circle cx="616.66" cy="309.53" r="1.8"/><circle cx="623.84" cy="309.7" r="1.8"/><circle cx="624.01" cy="312.33" r="1.8"/><circle cx="633.12" cy="311.28" r="1.8"/><circle cx="642.23" cy="310.05" r="1.8"/><circle cx="646.44" cy="309" r="1.8"/><circle cx="659.4" cy="305.85" r="1.8"/><circle cx="657.82" cy="310.75" r="1.8"/><circle cx="636.1" cy="316.01" r="1.8"/><circle cx="598.26" cy="322.49" r="1.8"/><circle cx="616.13" cy="321.09" r="1.8"/><circle cx="620.34" cy="321.09" r="1.8"/><circle cx="655.72" cy="322.84" r="1.8"/><circle cx="631.72" cy="328.62" r="1.8"/><circle cx="621.56" cy="337.91" r="1.8"/><circle cx="614.03" cy="339.66" r="1.8"/><circle cx="596.34" cy="342.46" r="1.8"/><circle cx="614.55" cy="344.56" r="1.8"/><circle cx="634.7" cy="344.56" r="1.8"/></g>
<line x1="562.7" y1="234.5" x2="676.6" y2="234.5" class="gr"/>
<line x1="562.7" y1="259.23" x2="676.6" y2="259.23" class="gr"/>
<line x1="562.7" y1="283.95" x2="676.6" y2="283.95" class="gr"/>
<line x1="562.7" y1="308.67" x2="676.6" y2="308.67" class="gr"/>
<line x1="562.7" y1="333.4" x2="676.6" y2="333.4" class="gr"/>
<line x1="587.8" y1="229.3" x2="587.8" y2="350.2" class="gr"/>
<line x1="624.5" y1="229.3" x2="624.5" y2="350.2" class="gr"/>
<line x1="661" y1="229.3" x2="661" y2="350.2" class="gr"/>
<line x1="567.3" y1="280.7" x2="671.5" y2="264.4" stroke="#161616" stroke-width="1.1"/>
<rect x="562.7" y="229.3" width="113.9" height="120.9" fill="none" stroke="#6a6a6a" stroke-width="0.9"/>
<line x1="560.5" y1="234.5" x2="562.7" y2="234.5" class="tk"/>
<text x="558.2" y="237.4" class="tl" text-anchor="end">100</text>
<line x1="560.5" y1="259.23" x2="562.7" y2="259.23" class="tk"/>
<text x="558.2" y="262.12" class="tl" text-anchor="end">80</text>
<line x1="560.5" y1="283.95" x2="562.7" y2="283.95" class="tk"/>
<text x="558.2" y="286.85" class="tl" text-anchor="end">60</text>
<line x1="560.5" y1="308.67" x2="562.7" y2="308.67" class="tk"/>
<text x="558.2" y="311.57" class="tl" text-anchor="end">40</text>
<line x1="560.5" y1="333.4" x2="562.7" y2="333.4" class="tk"/>
<text x="558.2" y="336.3" class="tl" text-anchor="end">20</text>
<line x1="587.8" y1="350.2" x2="587.8" y2="352.4" class="tk"/>
<text x="587.8" y="360.6" class="tl" text-anchor="middle">−50</text>
<line x1="624.5" y1="350.2" x2="624.5" y2="352.4" class="tk"/>
<text x="624.5" y="360.6" class="tl" text-anchor="middle">0</text>
<line x1="661" y1="350.2" x2="661" y2="352.4" class="tk"/>
<text x="661" y="360.6" class="tl" text-anchor="middle">50</text>
<text x="619.5" y="370.8" class="lb" text-anchor="middle">M1_STN_alpha coh change (%)</text>
<text transform="translate(538.7,289.75) rotate(-90)" class="lb" text-anchor="middle">Freezing time percent (%)</text>
<text x="619.4" y="223.7" class="lb" text-anchor="middle">TurnStart</text>
</svg>
</body></html>
